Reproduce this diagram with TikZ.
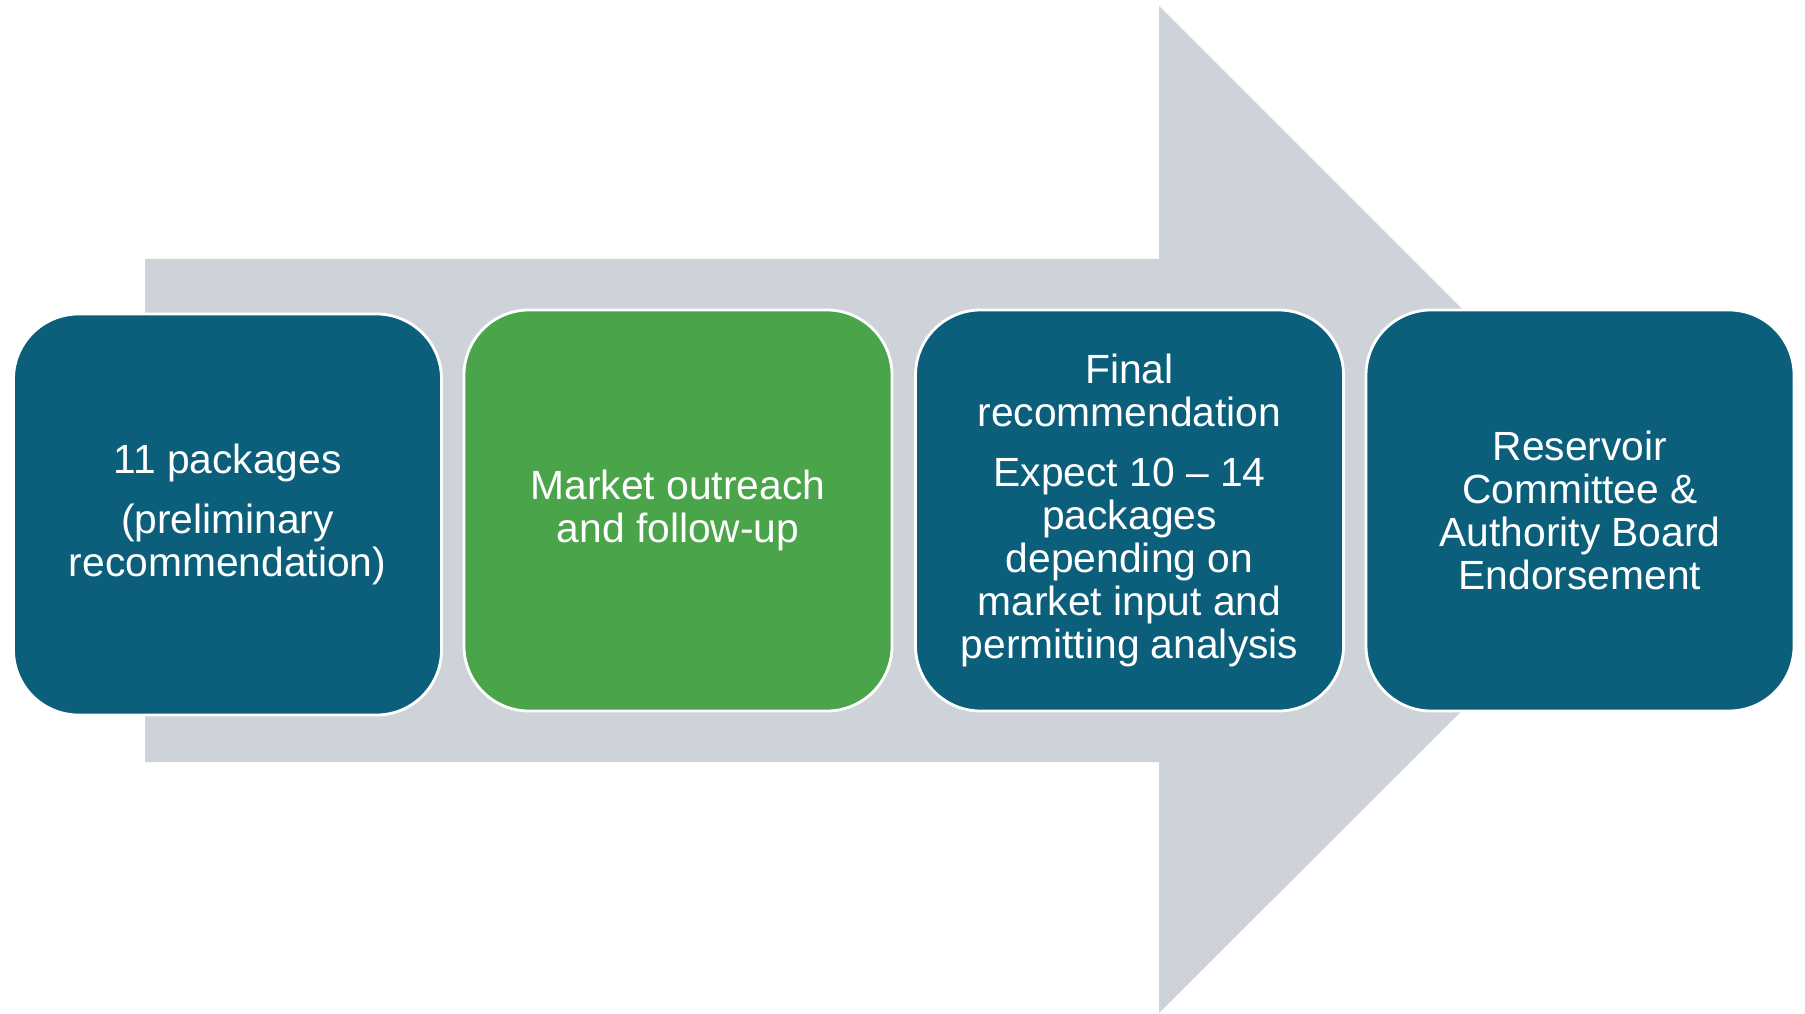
\documentclass[tikz,border=0pt]{standalone}
\usepackage{fontspec}
\setmainfont{Liberation Sans}
\definecolor{boxteal}{HTML}{0C5F7B}
\definecolor{boxgreen}{HTML}{4AA44A}
\definecolor{arrowgrey}{HTML}{CED3D9}
\begin{document}
\begin{tikzpicture}[box/.style={rounded corners=0.65cm, draw=white, line width=0.8pt,
    minimum width=4.28cm, minimum height=4.01cm, inner sep=0pt, align=center,
    text=white, font=\fontsize{11.6}{12.2}\selectfont}]
\useasboundingbox (0,0) rectangle (18.05,10.13);
\fill[arrowgrey] (1.45,2.51)--(11.59,2.51)--(11.59,0)--(16.63,5.03)--(11.59,10.07)--(11.59,7.54)--(1.45,7.54)--cycle;
\node (pkg) at (2.275,4.985)[box, fill=boxteal]{11 packages\\[5pt](preliminary\\recommendation)};
\node (mkt) at (6.78,5.025)[box, fill=boxgreen]{Market outreach\\and follow-up};
\node (fin) at (11.295,5.025)[box, fill=boxteal]{Final\\recommendation\\[5pt]Expect 10 – 14\\packages\\depending on\\market input and\\permitting analysis};
\node (endorse) at (15.80,5.025)[box, fill=boxteal]{Reservoir\\Committee \&\\Authority Board\\Endorsement};

\end{tikzpicture}
\end{document}
